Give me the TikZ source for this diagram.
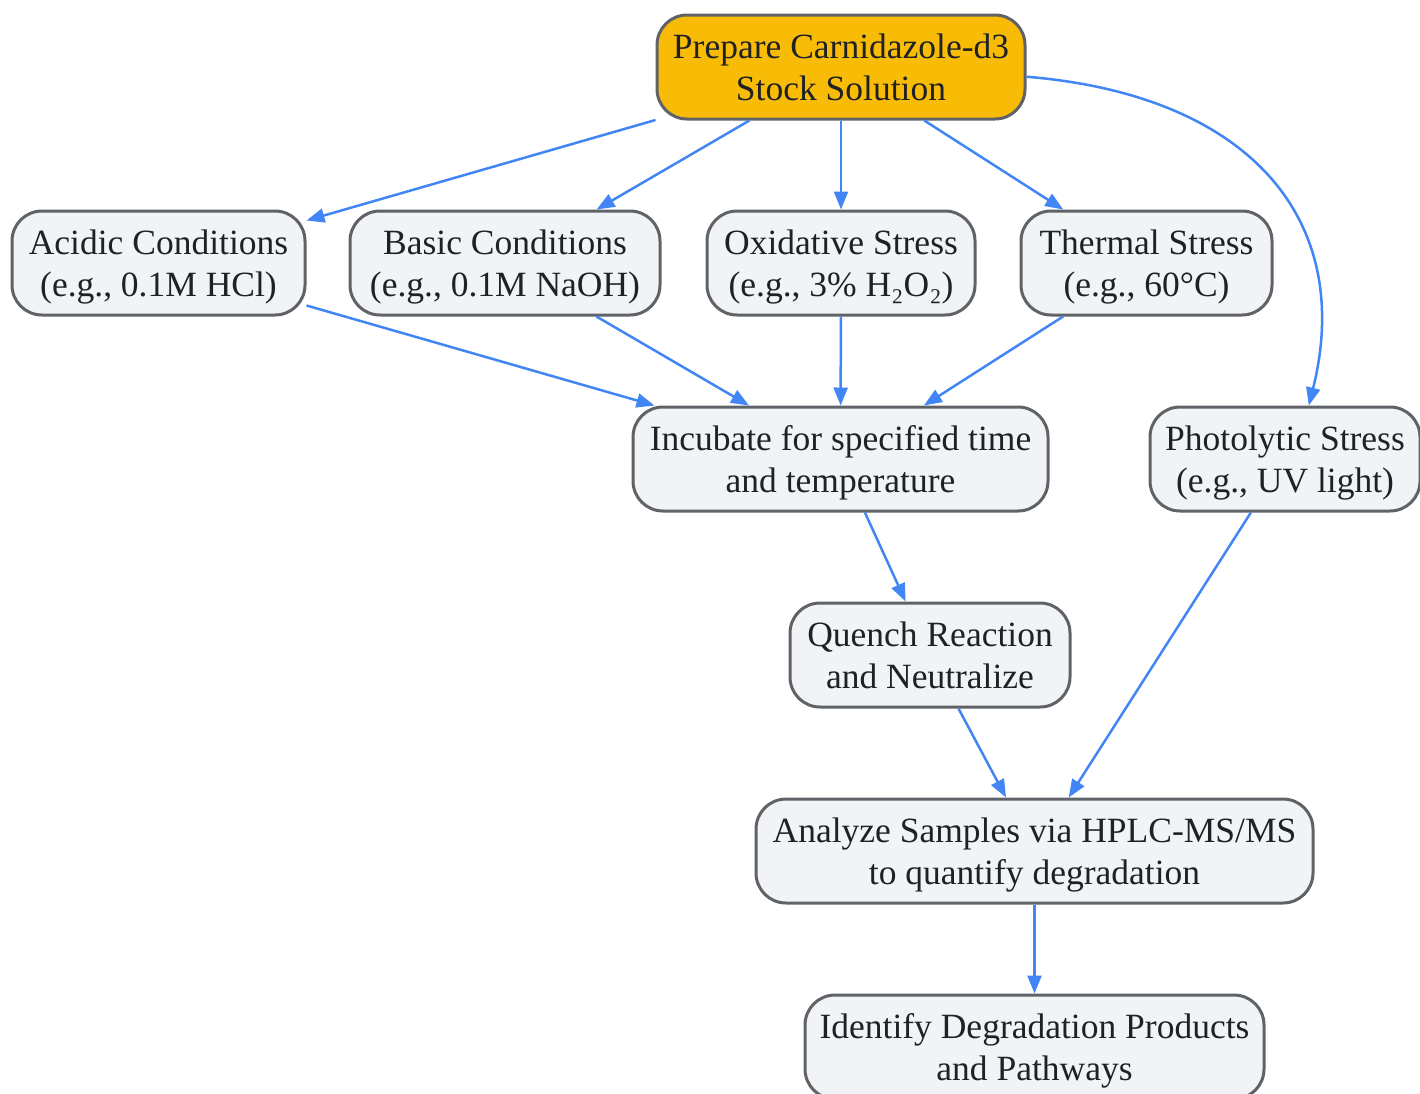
\documentclass[tikz,border=0pt]{standalone}
\usepackage{fontspec}
\setmainfont{Liberation Serif}
\usetikzlibrary{arrows.meta}
\definecolor{edgeblue}{HTML}{4285F4}
\definecolor{boxgray}{HTML}{F1F3F4}
\definecolor{boxline}{HTML}{5F6368}
\definecolor{startfill}{HTML}{F9BC06}
\definecolor{txt}{HTML}{202124}
\newcommand{\boxtext}[1]{\raisebox{-4pt}[\height][\depth]{\begin{tabular}{@{}c@{}}#1\end{tabular}}}
\tikzset{
  box/.style={draw=boxline, line width=3pt, fill=boxgray, rounded corners=30pt,
    text=txt, inner sep=0pt, minimum height=104pt,
    font=\fontsize{35.5}{42}\selectfont},
  startbox/.style={box, fill=startfill},
  flow/.style={draw=edgeblue, line width=2.5pt, -{Triangle[length=18pt,width=14pt]}}
}
\begin{document}
\begin{tikzpicture}[x=1pt,y=-1pt]
\useasboundingbox (0,0) rectangle (1420,1093);
\node[startbox, minimum width=368pt] (prep) at (841,67) {\boxtext{Prepare Carnidazole-d3\\Stock Solution}};
\node[box, minimum width=293pt] (acid) at (158.5,263) {\boxtext{Acidic Conditions\\(e.g., 0.1M HCl)}};
\node[box, minimum width=310pt] (base) at (505,263) {\boxtext{Basic Conditions\\(e.g., 0.1M NaOH)}};
\node[box, minimum width=268pt] (oxid) at (841,263) {\boxtext{Oxidative Stress\\(e.g., 3\% H₂O₂)}};
\node[box, minimum width=251pt] (therm) at (1146.5,263) {\boxtext{Thermal Stress\\(e.g., 60°C)}};
\node[box, minimum width=415pt] (incub) at (840.5,459) {\boxtext{Incubate for specified time\\and temperature}};
\node[box, minimum width=270pt] (photo) at (1285,459) {\boxtext{Photolytic Stress\\(e.g., UV light)}};
\node[box, minimum width=280pt] (quench) at (930,655) {\boxtext{Quench Reaction\\and Neutralize}};
\node[box, minimum width=557pt] (analyze) at (1034.5,851) {\boxtext{Analyze Samples via HPLC-MS/MS\\to quantify degradation}};
\node[box, minimum width=459pt] (ident) at (1034.5,1047) {\boxtext{Identify Degradation Products\\and Pathways}};

\draw[flow] (prep) -- (acid);
\draw[flow] (prep) -- (base);
\draw[flow] (prep) -- (oxid);
\draw[flow] (prep) -- (therm);
\draw[flow] (prep.-3) .. controls (1250,95) and (1355,220) .. (photo.66);
\draw[flow] (acid) -- (incub);
\draw[flow] (base) -- (incub);
\draw[flow] (oxid) -- (incub);
\draw[flow] (therm) -- (incub);
\draw[flow] (incub) -- (quench);
\draw[flow] (photo) -- (analyze);
\draw[flow] (quench) -- (analyze);
\draw[flow] (analyze) -- (ident);
\end{tikzpicture}
\end{document}
